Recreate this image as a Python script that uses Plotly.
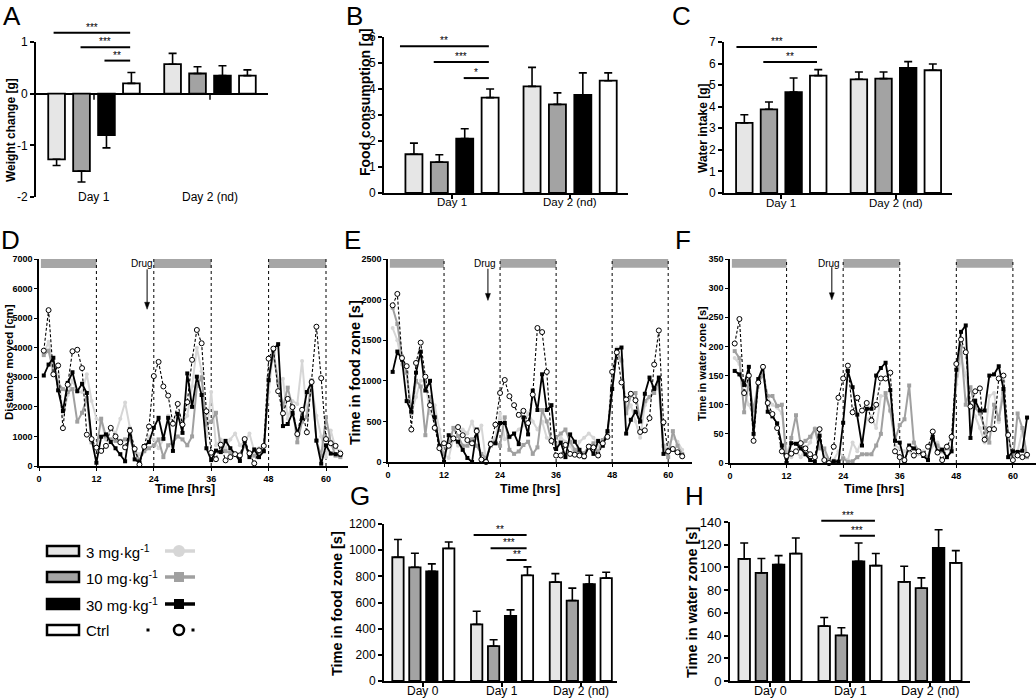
import plotly.graph_objects as go

W, H = 1036, 699
FONT = "Liberation Sans, Arial, sans-serif"

# ---------------- data ----------------
dose_labels = ["3 mg·kg<sup>-1</sup>", "10 mg·kg<sup>-1</sup>", "30 mg·kg<sup>-1</sup>", "Ctrl"]
days_2 = ["Day 1", "Day 2 (nd)"]
days_3 = ["Day 0", "Day 1", "Day 2 (nd)"]

# A: weight change [g]
weight_3 = [-1.27, 0.57];   weight_3_err = [0.12, 0.21]
weight_10 = [-1.50, 0.39];  weight_10_err = [0.21, 0.13]
weight_30 = [-0.80, 0.35];  weight_30_err = [0.25, 0.19]
weight_ctrl = [0.20, 0.35]; weight_ctrl_err = [0.21, 0.11]

# B: food consumption [g]
food_3 = [1.49, 4.10];   food_3_err = [0.43, 0.73]
food_10 = [1.19, 3.41];  food_10_err = [0.28, 0.44]
food_30 = [2.09, 3.77];  food_30_err = [0.38, 0.85]
food_ctrl = [3.67, 4.32]; food_ctrl_err = [0.33, 0.30]

# C: water intake [g]
water_3 = [3.25, 5.27];   water_3_err = [0.38, 0.34]
water_10 = [3.88, 5.30];  water_10_err = [0.34, 0.31]
water_30 = [4.68, 5.80];  water_30_err = [0.65, 0.29]
water_ctrl = [5.44, 5.69]; water_ctrl_err = [0.28, 0.29]

# G: time in food zone [s]
foodzone_3 = [946, 433, 756];    foodzone_3_err = [136, 100, 65]
foodzone_10 = [869, 267, 615];   foodzone_10_err = [108, 48, 95]
foodzone_30 = [838, 497, 741];   foodzone_30_err = [57, 47, 67]
foodzone_ctrl = [1013, 808, 787]; foodzone_ctrl_err = [49, 64, 44]

# H: time in water zone [s]
waterzone_3 = [107.5, 48.3, 87.3];    waterzone_3_err = [14.0, 7.6, 13.7]
waterzone_10 = [95.2, 40.1, 81.7];    waterzone_10_err = [12.6, 6.8, 9.1]
waterzone_30 = [102.5, 105.4, 117.1]; waterzone_30_err = [7.9, 16.1, 16.1]
waterzone_ctrl = [112.2, 101.6, 104.0]; waterzone_ctrl_err = [13.7, 10.6, 10.8]

# significance bars: label, start bar slot, level (end at Ctrl bar)
sig_A_text = ["***", "***", "**"]; sig_A_from = [-0.12, 0.96, 1.92]; sig_A_level = [1.18, 0.90, 0.64]
sig_B_text = ["**", "***", "*"];   sig_B_from = [-0.55, 0.78, 1.96]; sig_B_level = [5.64, 5.04, 4.42]
sig_C_text = ["***", "**"];        sig_C_from = [-0.32, 0.77];       sig_C_level = [6.77, 6.07]
sig_G_text = ["**", "***", "**"];  sig_G_from = [-0.18, 0.82, 1.76]; sig_G_level = [1115, 1015, 925]
sig_H_text = ["***", "***"];       sig_H_from = [-0.17, 0.90];       sig_H_level = [141, 128]

# time courses (hourly)
hours = list(range(1, 64))
dist_3 = [3800, 4200, 3300, 3100, 1700, 2400, 2900, 2500, 2500, 3100,
          2200, 1600, 1500, 900, 1300, 1100, 1600, 2150, 1300, 500,
          400, 500, 1000, 900, 600, 900, 1700, 1500, 1800, 1500,
          1700, 2700, 4000, 3200, 1000, 2500, 700, 900, 600, 900,
          1100, 700, 800, 1100, 500, 600, 700, 2500, 3900, 2900,
          2950, 1600, 2200, 2100, 3550, 1700, 2700, 1700, 1000, 300,
          1200, 600, 500]
dist_10 = [3750, 3900, 3200, 2800, 2600, 2500, 2600, 1500, 1800, 2300,
           800, 600, 1600, 1000, 900, 850, 850, 900, 900, 500,
           200, 500, 600, 700, 900, 300, 700, 800, 1000, 900,
           700, 1000, 2700, 3000, 1400, 1500, 1800, 600, 500, 450,
           400, 300, 700, 400, 350, 400, 500, 3000, 3800, 2800,
           2000, 2650, 2000, 800, 1500, 1650, 2900, 850, 350, 1650,
           800, 350, 300]
dist_30 = [3060, 3430, 3660, 2560, 1860, 2810, 3170, 2530, 2780, 2470,
           900, 110, 990, 1070, 810, 600, 400, 160, 1240, 225,
           110, 675, 810, 1290, 1630, 920, 1630, 510, 1760, 1120,
           3130, 2000, 3020, 2400, 600, 200, 520, 470, 850, 600,
           400, 170, 850, 300, 560, 300, 500, 2900, 3950, 4120,
           1350, 1420, 1800, 1100, 1620, 2500, 2850, 860, 80, 700,
           420, 400, 380]
dist_ctrl = [3900, 5270, 3100, 3400, 1280, 2750, 3880, 3930, 3310, 1060,
             910, 620, 510, 680, 1290, 1000, 800, 630, 1195, 580,
             50, 650, 1335, 3040, 3520, 2690, 2380, 1430, 2100, 1400,
             2160, 3590, 4600, 4150, 1850, 450, 230, 720, 190, 300,
             400, 360, 910, 430, 90, 530, 680, 3630, 3970, 2530,
             1780, 2270, 1990, 1080, 1900, 1140, 2840, 4710, 2970, 910,
             770, 680, 420]

food_t_3 = [1650, 1500, 1200, 1100, 600, 800, 1000, 1000, 600, 700,
            400, 100, 50, 300, 200, 400, 350, 500, 300, 450,
            0, 250, 300, 600, 280, 300, 350, 400, 450, 600,
            500, 400, 500, 300, 250, 200, 300, 250, 200, 100,
            250, 300, 350, 300, 200, 250, 300, 1100, 1400, 1250,
            600, 700, 500, 300, 700, 800, 900, 900, 100, 200,
            300, 250, 150]
food_t_10 = [1900, 1700, 1300, 1100, 600, 1000, 930, 330, 800, 550,
             200, 100, 200, 420, 320, 200, 200, 280, 200, 100,
             50, 200, 250, 200, 550, 150, 100, 130, 210, 250,
             100, 180, 640, 500, 250, 300, 350, 400, 250, 150,
             100, 110, 190, 230, 120, 270, 350, 900, 1350, 1250,
             600, 820, 850, 500, 750, 800, 850, 1000, 200, 60,
             380, 200, 100]
food_t_30 = [1110, 1360, 1260, 750, 620, 1100, 1360, 880, 1000, 550,
             200, 0, 330, 290, 250, 150, 50, 0, 400, 0,
             10, 230, 230, 480, 480, 310, 350, 220, 550, 340,
             880, 640, 1080, 640, 700, 160, 240, 60, 340, 250,
             150, 60, 190, 100, 260, 200, 380, 900, 1380, 1410,
             350, 520, 620, 500, 840, 1040, 900, 1040, 100, 140,
             150, 120, 80]
food_t_ctrl = [1930, 2070, 1280, 1180, 400, 1220, 1470, 1050, 700, 420,
               170, 230, 200, 290, 430, 330, 270, 230, 380, 30,
               0, 220, 460, 850, 1010, 810, 700, 580, 630, 480,
               830, 1650, 1600, 1110, 260, 80, 80, 210, 100, 90,
               80, 70, 190, 180, 80, 230, 310, 1110, 1350, 980,
               770, 840, 760, 370, 390, 540, 1200, 1620, 490, 130,
               160, 120, 70]

water_t_3 = [180, 170, 120, 100, 80, 130, 160, 110, 100, 95,
             85, 20, 10, 20, 10, 25, 35, 60, 30, 15,
             0, 5, 20, 10, 5, 35, 20, 40, 75, 80,
             60, 115, 115, 90, 30, 25, 20, 20, 10, 15,
             20, 10, 30, 35, 20, 30, 40, 135, 180, 150,
             100, 80, 60, 35, 115, 120, 70, 140, 10, 10,
             20, 55, 15]
water_t_10 = [192, 180, 87, 140, 90, 140, 150, 115, 115, 98,
              100, 0, 43, 82, 30, 38, 45, 58, 25, 25,
              5, 2, 3, 8, 2, 3, 10, 15, 15, 15,
              30, 50, 120, 90, 40, 65, 75, 133, 35, 20,
              15, 10, 40, 30, 20, 25, 25, 150, 200, 100,
              130, 95, 85, 60, 35, 100, 75, 120, 50, 5,
              85, 60, 10]
water_t_30 = [158, 152, 134, 165, 50, 144, 165, 88, 80, 68,
              30, 0, 34, 33, 25, 15, 5, 2, 47, 5,
              0, 3, 2, 69, 158, 130, 83, 30, 93, 93,
              150, 163, 172, 125, 38, 35, 3, 30, 25, 20,
              12, 5, 45, 20, 23, 10, 20, 160, 225, 236,
              43, 107, 90, 90, 150, 152, 166, 127, 10, 20,
              19, 21, 78]
water_t_ctrl = [205, 247, 120, 150, 38, 138, 165, 103, 84, 60,
                20, 12, 16, 20, 34, 25, 15, 10, 58, 5,
                0, 28, 112, 145, 167, 87, 112, 90, 103, 73,
                100, 145, 145, 155, 20, 10, 5, 25, 13, 20,
                15, 28, 54, 18, 5, 28, 45, 170, 212, 190,
                97, 123, 128, 40, 58, 58, 145, 150, 48, 5,
                13, 10, 14]

dark_phases = [(0.4, 12), (24, 36), (48, 60)]
phase_lines = [12, 24, 36, 48, 60]
time_ticks = [0, 12, 24, 36, 48, 60]

# ---------------- styling ----------------
bar_fill = ["#e6e6e6", "#a3a3a3", "#000000", "#ffffff"]
line_col = ["#d6d6d6", "#a0a0a0", "#000000", "#000000"]
BARGAP = 0.14
SLOT = (1 - BARGAP) / 4


def px(x):
    return x / W


def py(y):
    return 1 - y / H


fig = go.Figure()
layout = dict(width=W, height=H, margin=dict(l=0, r=0, t=0, b=0, autoexpand=False), autosize=False,
              paper_bgcolor="white", plot_bgcolor="white", showlegend=False,
              barmode="group", bargap=BARGAP, bargroupgap=0.33,
              font=dict(family=FONT, color="black"))
shapes, annos = [], []

bar_panels = [
    dict(n=1, groups=days_2, vals=[weight_3, weight_10, weight_30, weight_ctrl],
         errs=[weight_3_err, weight_10_err, weight_30_err, weight_ctrl_err],
         xd=(36, 268), yd=(42, 197), yr=(-2, 1), dt=1, xr=(-0.5, 1.5), laby=197,
         sig=(sig_A_text, sig_A_from, sig_A_level), sig_g=0, ytitle="Weight change [g]",
         tpos=(11, 130), tsize=12, tick=12, lab=12),
    dict(n=2, groups=days_2, vals=[food_3, food_10, food_30, food_ctrl],
         errs=[food_3_err, food_10_err, food_30_err, food_ctrl_err],
         xd=(384, 628), yd=(37, 193), yr=(0, 6), dt=1, xr=(-0.576, 1.49), laby=202,
         sig=(sig_B_text, sig_B_from, sig_B_level), sig_g=0, ytitle="Food consumption [g]",
         tpos=(365, 102), tsize=14, tick=12, lab=11.5),
    dict(n=3, groups=days_2, vals=[water_3, water_10, water_30, water_ctrl],
         errs=[water_3_err, water_10_err, water_30_err, water_ctrl_err],
         xd=(724, 952), yd=(42, 193), yr=(0, 7), dt=1, xr=(-0.5, 1.49), laby=203,
         sig=(sig_C_text, sig_C_from, sig_C_level), sig_g=0, ytitle="Water intake [g]",
         tpos=(703, 128), tsize=12, tick=12, lab=11.5),
    dict(n=7, groups=days_3, vals=[foodzone_3, foodzone_10, foodzone_30, foodzone_ctrl],
         errs=[foodzone_3_err, foodzone_10_err, foodzone_30_err, foodzone_ctrl_err],
         xd=(384, 617), yd=(524, 681), yr=(0, 1200), dt=200, xr=(-0.5, 2.46), laby=691,
         sig=(sig_G_text, sig_G_from, sig_G_level), sig_g=1, ytitle="Time in food zone [s]",
         tpos=(337, 604), tsize=14.5, tick=12, lab=12),
    dict(n=8, groups=days_3, vals=[waterzone_3, waterzone_10, waterzone_30, waterzone_ctrl],
         errs=[waterzone_3_err, waterzone_10_err, waterzone_30_err, waterzone_ctrl_err],
         xd=(730, 970), yd=(522, 681), yr=(0, 140), dt=20, xr=(-0.5, 2.5), laby=691,
         sig=(sig_H_text, sig_H_from, sig_H_level), sig_g=1, ytitle="Time in water zone [s]",
         tpos=(692, 603), tsize=14.5, tick=13, lab=12.5),
]

for p in bar_panels:
    n = p["n"]
    xs, ys = ("x%d" % n if n > 1 else "x"), ("y%d" % n if n > 1 else "y")
    xk, yk = ("xaxis%d" % n if n > 1 else "xaxis"), ("yaxis%d" % n if n > 1 else "yaxis")
    pos = list(range(len(p["groups"])))
    for k in range(4):
        v, e = p["vals"][k], p["errs"][k]
        plus = [ee if vv >= 0 else 0 for vv, ee in zip(v, e)]
        minus = [ee if vv < 0 else 0 for vv, ee in zip(v, e)]
        fig.add_trace(go.Bar(x=pos, y=v, xaxis=xs, yaxis=ys, name=dose_labels[k],
                             marker=dict(color=bar_fill[k], line=dict(color="black", width=1.8)),
                             error_y=dict(type="data", symmetric=False, array=plus, arrayminus=minus,
                                          color="black", thickness=1.6, width=4)))
    isA = n == 1
    y0, y1 = p["yr"]
    tv = list(range(int(y0), int(y1) + 1, p["dt"]))
    layout[yk] = dict(domain=[py(p["yd"][1]), py(p["yd"][0])], range=list(p["yr"]), anchor=xs,
                      showline=True, linecolor="black", linewidth=2, ticks="outside", ticklen=4,
                      tickwidth=1.5, tickcolor="black", showgrid=False,
                      tickvals=tv, ticktext=[str(t) for t in tv],
                      zeroline=isA, zerolinecolor="black", zerolinewidth=2,
                      tickfont=dict(size=p["tick"], family=FONT))
    layout[xk] = dict(domain=[px(p["xd"][0]), px(p["xd"][1])], range=list(p["xr"]), anchor=ys,
                      showline=not isA, linecolor="black", linewidth=2,
                      ticks="" if isA else "outside", ticklen=4, tickwidth=1.5, tickcolor="black",
                      tickvals=pos, showticklabels=False,
                      showgrid=False, zeroline=False)
    dom0, dom1 = py(p["yd"][1]), py(p["yd"][0])

    def v2p(v, dom0=dom0, dom1=dom1, y0=y0, y1=y1):
        return dom0 + (v - y0) / (y1 - y0) * (dom1 - dom0)

    for i, g in enumerate(p["groups"]):
        annos.append(dict(x=i, y=py(p["laby"]), xref=xs, yref="paper", text=g, showarrow=False,
                          xanchor="center", yanchor="middle", font=dict(size=p["lab"], color="black")))
        if isA:
            shapes.append(dict(type="line", xref=xs, yref="paper", x0=i, x1=i,
                               y0=v2p(0), y1=v2p(0) - 6 / H, line=dict(color="black", width=1.5)))
    txt, frm, lev = p["sig"]
    g = p["sig_g"]
    for t, f, lv in zip(txt, frm, lev):
        xa = g + (f - 1.5) * SLOT
        xb = g + (2.95 - 1.5) * SLOT
        yy = v2p(lv)
        shapes.append(dict(type="line", xref=xs, yref="paper", x0=xa, x1=xb, y0=yy, y1=yy,
                           line=dict(color="black", width=2)))
        annos.append(dict(x=(xa + xb) / 2, y=yy, xref=xs, yref="paper", text=t, showarrow=False,
                          xanchor="center", yanchor="bottom", yshift=-2,
                          font=dict(size=10, color="black")))
    annos.append(dict(x=px(p["tpos"][0]), y=py(p["tpos"][1]), xref="paper", yref="paper",
                      text="<b>%s</b>" % p["ytitle"], textangle=-90, showarrow=False,
                      xanchor="center", yanchor="middle", font=dict(size=p["tsize"], color="black")))

time_panels = [
    dict(n=4, series=[dist_3, dist_10, dist_30, dist_ctrl], xd=(39, 348), yd=(259, 466),
         yr=(0, 7000), dt=1000, xr=(0, 64.6), ytitle="Distance moved [cm]", tpos=(9, 362), tsize=11.5,
         drug=(24.3, 6850, 22.6, 6650, 5300)),
    dict(n=5, series=[food_t_3, food_t_10, food_t_30, food_t_ctrl], xd=(388, 692), yd=(259, 462),
         yr=(0, 2500), dt=500, xr=(0, 65.1), ytitle="Time in food zone [s]", tpos=(355, 373), tsize=14.5,
         drug=(23.6, 2450, 21.4, 2380, 1990)),
    dict(n=6, series=[water_t_3, water_t_10, water_t_30, water_t_ctrl], xd=(730, 1036), yd=(259, 463),
         yr=(0, 350), dt=50, xr=(0, 64.9), ytitle="Time in water zone [s]", tpos=(702, 364), tsize=11,
         drug=(23.8, 343, 21.6, 336, 280)),
]

for p in time_panels:
    n = p["n"]
    xs, ys = "x%d" % n, "y%d" % n
    xk, yk = "xaxis%d" % n, "yaxis%d" % n
    styles = [
        dict(mode="lines+markers", line=dict(color=line_col[0], width=2),
             marker=dict(symbol="circle", size=4, color=line_col[0])),
        dict(mode="lines+markers", line=dict(color=line_col[1], width=2),
             marker=dict(symbol="square", size=4, color=line_col[1])),
        dict(mode="lines+markers", line=dict(color=line_col[2], width=1.8),
             marker=dict(symbol="square", size=4, color=line_col[2])),
        dict(mode="lines+markers", line=dict(color=line_col[3], width=1.1, dash="3px,2px"),
             marker=dict(symbol="circle", size=5, color="white", line=dict(color="black", width=1))),
    ]
    for k in range(4):
        fig.add_trace(go.Scatter(x=hours, y=p["series"][k], xaxis=xs, yaxis=ys, cliponaxis=False,
                                 name=dose_labels[k], **styles[k]))
    y0, y1 = p["yr"]
    x0r, x1r = p["xr"]
    ux = (x1r - x0r) / (p["xd"][1] - p["xd"][0])     # data units per pixel (x)
    uy = (y1 - y0) / (p["yd"][1] - p["yd"][0])       # data units per pixel (y)
    layout[yk] = dict(domain=[py(p["yd"][1]), py(p["yd"][0])], range=[y0, y1], anchor=xs,
                      showline=True, linecolor="black", linewidth=1.5, ticks="outside", ticklen=3,
                      tickwidth=1.2, tickcolor="black", showgrid=False, zeroline=False, dtick=p["dt"],
                      tickfont=dict(size=9, family=FONT, weight="bold"))
    layout[xk] = dict(domain=[px(p["xd"][0]), px(p["xd"][1])], range=list(p["xr"]), anchor=ys,
                      showline=True, linecolor="black", linewidth=2, ticks="outside", ticklen=3,
                      tickwidth=1.2, tickcolor="black", showgrid=False, zeroline=False,
                      tickvals=time_ticks, tickfont=dict(size=9, family=FONT, weight="bold"))
    for a, b in dark_phases:
        shapes.append(dict(type="rect", xref=xs, yref=ys, x0=a, x1=b, y0=y1 * 0.957, y1=y1,
                           fillcolor="#a6a6a6", line=dict(width=0), layer="below"))
    for xl in phase_lines:
        shapes.append(dict(type="line", xref=xs, yref=ys, x0=xl, x1=xl, y0=0, y1=y1,
                           line=dict(color="black", width=1, dash="dot"), layer="below"))
    tx, ty, ax_, atop, atip = p["drug"]
    annos.append(dict(x=tx, y=ty, xref=xs, yref=ys, text="Drug", showarrow=False,
                      xanchor="right", yanchor="middle", font=dict(size=10, color="black")))
    # drug arrow: shaft + head
    shapes.append(dict(type="line", xref=xs, yref=ys, x0=ax_, x1=ax_, y0=atop, y1=atip + 5 * uy,
                       line=dict(color="black", width=1)))
    shapes.append(dict(type="path", xref=xs, yref=ys,
                       path="M %f,%f L %f,%f L %f,%f Z" % (ax_ - 2.5 * ux, atip + 7 * uy,
                                                          ax_ + 2.5 * ux, atip + 7 * uy,
                                                          ax_, atip),
                       fillcolor="black", line=dict(color="black", width=0.5)))
    annos.append(dict(x=30.5, y=py(489), xref=xs, yref="paper", text="<b>Time [hrs]</b>",
                      showarrow=False, xanchor="center", yanchor="middle",
                      font=dict(size=12.5, color="black")))
    annos.append(dict(x=px(p["tpos"][0]), y=py(p["tpos"][1]), xref="paper", yref="paper",
                      text="<b>%s</b>" % p["ytitle"], textangle=-90, showarrow=False,
                      xanchor="center", yanchor="middle", font=dict(size=p["tsize"], color="black")))

# panel letters
letters = ["A", "B", "C", "D", "E", "F", "G", "H"]
letter_pos = [(12, 16), (354, 16), (681, 16), (10, 240), (352, 240), (683, 240), (360, 496), (694, 496)]
for L, (lx, ly) in zip(letters, letter_pos):
    annos.append(dict(x=px(lx), y=py(ly), xref="paper", yref="paper", text=L, showarrow=False,
                      xanchor="center", yanchor="middle", font=dict(size=26, color="black")))

# legend (bottom left)
rows_y = [551, 577, 604, 630]
for k, ry in enumerate(rows_y):
    shapes.append(dict(type="rect", xref="paper", yref="paper", x0=px(47), x1=px(79),
                       y0=py(ry + 5), y1=py(ry - 5), fillcolor=bar_fill[k],
                       line=dict(color="black", width=2.5)))
    annos.append(dict(x=px(84), y=py(ry), xref="paper", yref="paper", text=dose_labels[k],
                      showarrow=False, xanchor="left", yanchor="middle",
                      font=dict(size=15, color="black")))
    if k < 3:
        shapes.append(dict(type="line", xref="paper", yref="paper", x0=px(165), x1=px(195),
                           y0=py(ry), y1=py(ry), line=dict(color=line_col[k], width=3.5)))
        if k == 0:
            shapes.append(dict(type="circle", xref="paper", yref="paper", x0=px(173), x1=px(185),
                               y0=py(ry + 6), y1=py(ry - 6), fillcolor=line_col[k],
                               line=dict(width=0)))
        else:
            shapes.append(dict(type="rect", xref="paper", yref="paper", x0=px(174), x1=px(184),
                               y0=py(ry + 5), y1=py(ry - 5), fillcolor=line_col[k],
                               line=dict(width=0)))
    else:
        for dx in (148, 193):
            shapes.append(dict(type="rect", xref="paper", yref="paper", x0=px(dx - 1.5), x1=px(dx + 1.5),
                               y0=py(ry + 1.5), y1=py(ry - 1.5), fillcolor="black", line=dict(width=0)))
        shapes.append(dict(type="circle", xref="paper", yref="paper", x0=px(174), x1=px(184),
                           y0=py(ry + 5), y1=py(ry - 5), fillcolor="white",
                           line=dict(color="black", width=2.5)))

layout["shapes"] = shapes
layout["annotations"] = annos
fig.update_layout(**layout)
fig.write_html("out.html", config={"displayModeBar": False},
               post_script="document.body.style.margin='0';document.body.style.overflow='hidden';")
